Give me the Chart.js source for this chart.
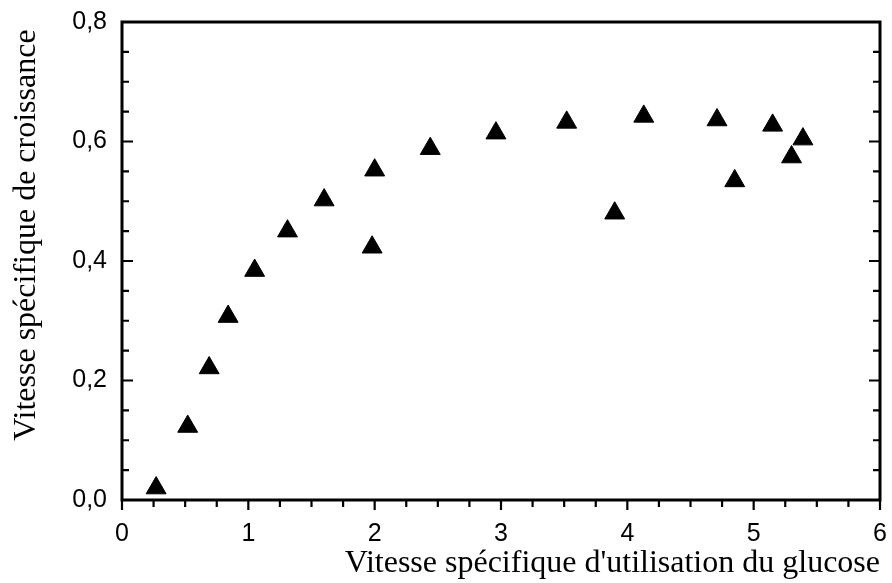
<!DOCTYPE html>
<html>
<head>
<meta charset="utf-8">
<script src="https://cdn.jsdelivr.net/npm/chart.js@4/dist/chart.umd.min.js"></script>
<style>
html,body{margin:0;padding:0;background:#fff;overflow:hidden;}
#wrap{width:892px;height:583px;position:relative;}
</style>
</head>
<body>
<div id="wrap"><canvas id="c" width="892" height="583"></canvas></div>
<script>
// Data
const glucoseRate = [0.27, 0.52, 0.69, 0.84, 1.05, 1.31, 1.60, 1.98, 2.00, 2.44, 2.96, 3.52, 3.90, 4.13, 4.71, 4.85, 5.15, 5.30, 5.39];
const growthRate  = [0.020, 0.123, 0.221, 0.307, 0.384, 0.450, 0.502, 0.423, 0.552, 0.588, 0.614, 0.632, 0.480, 0.642, 0.636, 0.534, 0.627, 0.574, 0.604];
const xTickValues = [0, 1, 2, 3, 4, 5, 6];
const yTickValues = [0, 0.2, 0.4, 0.6, 0.8];
const xAxisTitle = "Vitesse spécifique d'utilisation du glucose";
const yAxisTitle = "Vitesse spécifique de croissance";

const points = glucoseRate.map((x, i) => ({x: x, y: growthRate[i]}));

const frameTicks = {
  id: 'frameTicks',
  beforeDatasetsDraw(chart) {
    const {ctx, chartArea: a, scales: {x, y}} = chart;
    ctx.save();
    ctx.strokeStyle = '#000';
    ctx.lineWidth = 3;
    ctx.strokeRect(a.left, a.top, a.right - a.left, a.bottom - a.top);
    ctx.lineWidth = 2.2;
    ctx.beginPath();
    // bottom axis ticks, outward
    for (let v = 0; v <= 6.0001; v += 0.25) {
      const px = x.getPixelForValue(v);
      const major = Math.abs(v - Math.round(v)) < 1e-6;
      ctx.moveTo(px, a.bottom);
      ctx.lineTo(px, a.bottom + (major ? 10 : 7));
    }
    // left and right axis ticks, inward
    for (let v = 0; v <= 0.8001; v += 0.05) {
      const py = y.getPixelForValue(v);
      const major = Math.abs(v / 0.2 - Math.round(v / 0.2)) < 1e-6;
      const len = major ? 11 : 7;
      ctx.moveTo(a.left, py); ctx.lineTo(a.left + len, py);
      ctx.moveTo(a.right, py); ctx.lineTo(a.right - len, py);
    }
    ctx.stroke();
    ctx.restore();
  },
  afterDraw(chart) {
    const {ctx} = chart;
    ctx.save();
    ctx.fillStyle = '#000';
    ctx.font = '32px "Liberation Serif", "Times New Roman", serif';
    ctx.textAlign = 'center';
    ctx.textBaseline = 'middle';
    ctx.translate(27, 235);
    ctx.rotate(-Math.PI / 2);
    ctx.fillText(yAxisTitle, 0, 0);
    ctx.restore();
  }
};

new Chart(document.getElementById('c'), {
  type: 'scatter',
  data: {
    datasets: [{
      data: points,
      pointStyle: 'triangle',
      pointRadius: 11.5,
      pointHoverRadius: 11.5,
      backgroundColor: '#000',
      borderColor: '#000',
      borderWidth: 1,
      clip: false
    }]
  },
  options: {
    responsive: false,
    animation: false,
    events: [],
    layout: {autoPadding: false, padding: {top: 22, right: 12, left: 0, bottom: 0}},
    plugins: {legend: {display: false}, tooltip: {enabled: false}},
    scales: {
      x: {
        type: 'linear', min: 0, max: 6,
        afterBuildTicks: (s) => { s.ticks = xTickValues.map(v => ({value: v})); },
        afterFit: (s) => { s.height = 83; s.paddingLeft = 0; s.paddingRight = 0; },
        grid: {display: false},
        border: {display: false},
        ticks: {
          color: '#000', padding: 11,
          font: {family: '"Liberation Sans", Arial, sans-serif', size: 25},
          callback: (v) => String(v)
        },
        title: {
          display: true, text: xAxisTitle, align: 'end', color: '#000',
          font: {family: '"Liberation Serif", "Times New Roman", serif', size: 32},
          padding: {top: 0, bottom: 0}
        }
      },
      y: {
        type: 'linear', min: 0, max: 0.8,
        afterBuildTicks: (s) => { s.ticks = yTickValues.map(v => ({value: v})); },
        afterFit: (s) => { s.width = 122; s.paddingTop = 0; s.paddingBottom = 0; },
        grid: {display: false},
        border: {display: false},
        ticks: {
          color: '#000', padding: 7,
          font: {family: '"Liberation Sans", Arial, sans-serif', size: 25},
          callback: (v) => v.toFixed(1).replace('.', ',')
        },
        title: {display: false}
      }
    }
  },
  plugins: [frameTicks]
});
</script>
</body>
</html>
